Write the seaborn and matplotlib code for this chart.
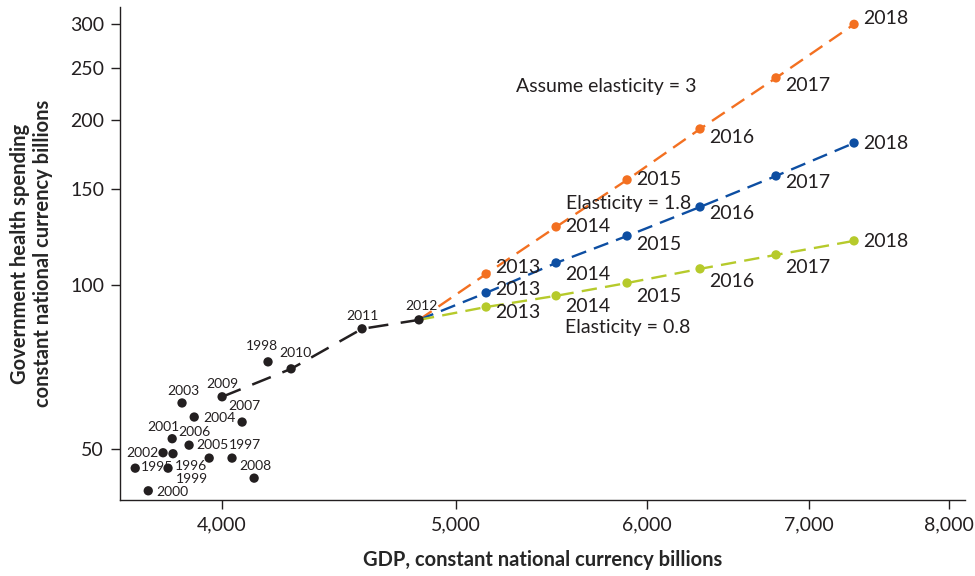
import matplotlib
matplotlib.use("Agg")
import matplotlib.pyplot as plt
import matplotlib.ticker as mticker
import pandas as pd
import seaborn as sns

# historical points
hist_years = [1995, 1996, 1997, 1998, 1999, 2000, 2001, 2002, 2003,
              2004, 2005, 2006, 2007, 2008, 2009, 2010, 2011, 2012]
hist_gdp = [3682, 3799, 4038, 4179, 3817, 3728, 3814, 3781, 3850,
            3895, 3951, 3876, 4077, 4124, 4000, 4272, 4571, 4826]
hist_health = [46.1, 46.1, 48.1, 72.2, 49.0, 41.9, 52.2, 49.2, 60.7,
               57.2, 48.1, 50.8, 56.0, 44.2, 62.3, 70.1, 83.0, 86.2]

# projections (start from 2012)
proj_years = [2012, 2013, 2014, 2015, 2016, 2017, 2018]
proj_gdp = [4826, 5145, 5500, 5885, 6309, 6783, 7307]
health_e3 = [86.2, 104.6, 127.6, 155.6, 192.9, 239.3, 300.0]
health_e18 = [86.2, 96.6, 109.6, 122.8, 138.8, 158.2, 181.8]
health_e08 = [86.2, 91.0, 95.4, 100.7, 106.9, 113.4, 120.3]

x_ticks = [4000, 5000, 6000, 7000, 8000]
y_ticks = [50, 100, 150, 200, 250, 300]

hist = pd.DataFrame({"year": hist_years, "gdp": hist_gdp, "health": hist_health})
trend = hist[hist["year"] >= 2009]

proj = pd.DataFrame({"year": proj_years * 3,
                     "gdp": proj_gdp * 3,
                     "health": health_e3 + health_e18 + health_e08,
                     "case": ["e3"] * 7 + ["e18"] * 7 + ["e08"] * 7})

colors = {"e3": "#F37021", "e18": "#0D4EA2", "e08": "#B6CA2B"}
dark = "#231F20"

sns.set_style("ticks")
plt.rcParams["font.family"] = ["Lato", "DejaVu Sans"]
plt.rcParams["text.color"] = dark

fig = plt.figure(figsize=(9.75, 5.76), dpi=100)
ax = fig.add_axes([0.1231, 0.1319, 0.8666, 0.8559])
ax.set_xscale("log")
ax.set_yscale("log")

# dashed trend lines
sns.lineplot(data=trend, x="gdp", y="health", color=dark, lw=1.8,
             dashes=False, ax=ax, sort=False)
ax.lines[-1].set_dashes((8, 5))
for case in ["e3", "e18", "e08"]:
    sub = proj[proj["case"] == case]
    sns.lineplot(data=sub, x="gdp", y="health", color=colors[case], lw=1.7,
                 ax=ax, sort=False)
    ax.lines[-1].set_dashes((6.5, 3.5))
    sns.scatterplot(data=sub[sub["year"] > 2012], x="gdp", y="health",
                    color=colors[case], s=45, edgecolor="none", ax=ax, zorder=5)

sns.scatterplot(data=hist, x="gdp", y="health", color=dark, s=45,
                edgecolor="none", ax=ax, zorder=5)

# historical year labels: (dx, dy) in pixels, ha
hist_off = {
    1995: (6, 1, "left"), 1996: (7, 2, "left"), 1997: (13, 13, "center"),
    1998: (-6, 16, "center"), 1999: (3, -25, "left"), 2000: (8, -1, "left"),
    2001: (-9, 12, "center"), 2002: (-5, 0, "right"), 2003: (1, 12, "center"),
    2004: (9, -1, "left"), 2005: (3, 13, "center"), 2006: (5, 13, "center"),
    2007: (2, 16, "center"), 2008: (1, 12, "center"), 2009: (0, 13, "center"),
    2010: (4, 16, "center"), 2011: (0, 13, "center"), 2012: (2, 14, "center"),
}
for yr, gx, hy in zip(hist_years, hist_gdp, hist_health):
    dx, dy, ha = hist_off[yr]
    ax.annotate(str(yr), (gx, hy), xytext=(dx, dy), textcoords="offset pixels",
                ha=ha, va="center", fontsize=10, zorder=3)

# projection year labels
proj_dy = {
    "e3": [6, 0, 0, -9, -8, 6],
    "e18": [3, -12, -9, -7, -7, 0],
    "e08": [-5, -11, -13, -13, -13, -1],
}
for case, vals in [("e3", health_e3), ("e18", health_e18), ("e08", health_e08)]:
    for i, (yr, gx, hy) in enumerate(zip(proj_years[1:], proj_gdp[1:], vals[1:])):
        ax.annotate(str(yr), (gx, hy), xytext=(9, proj_dy[case][i]),
                    textcoords="offset pixels", ha="left", va="center",
                    fontsize=14, zorder=3)

ax.text(0.4686, 0.8398, "Assume elasticity = 3", transform=ax.transAxes,
        fontsize=14, va="center", ha="left")
ax.text(0.5278, 0.6024, "Elasticity = 1.8", transform=ax.transAxes,
        fontsize=14, va="center", ha="left")
ax.text(0.5266, 0.3509, "Elasticity = 0.8", transform=ax.transAxes,
        fontsize=14, va="center", ha="left")

ax.set_xlim(3629, 8122)
ax.set_ylim(40.3, 322.7)
ax.xaxis.set_major_locator(mticker.FixedLocator(x_ticks))
ax.xaxis.set_minor_locator(mticker.NullLocator())
ax.xaxis.set_major_formatter(mticker.FuncFormatter(lambda v, p: f"{v:,.0f}"))
ax.yaxis.set_major_locator(mticker.FixedLocator(y_ticks))
ax.yaxis.set_minor_locator(mticker.NullLocator())
ax.yaxis.set_major_formatter(mticker.FuncFormatter(lambda v, p: f"{v:.0f}"))
ax.tick_params(axis="both", length=6.5, width=1, color=dark, labelsize=14,
               labelcolor=dark, pad=5)
for side in ["left", "bottom"]:
    ax.spines[side].set_color(dark)
    ax.spines[side].set_linewidth(1)
sns.despine(ax=ax)

ax.set_xlabel("GDP, constant national currency billions", fontsize=14.5,
              fontweight="bold", labelpad=12)
ax.set_ylabel("Government health spending\nconstant national currency billions",
              fontsize=14.5, fontweight="bold", labelpad=12)

fig.savefig("out.png", dpi=100)
